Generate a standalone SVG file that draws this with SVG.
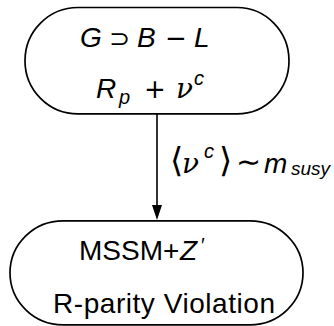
<svg xmlns="http://www.w3.org/2000/svg" width="334" height="326" viewBox="0 0 334 326">
<style>
.node{fill:none;stroke:#000;stroke-width:1.7}
.edge{fill:none;stroke:#000;stroke-width:1.6}
.s{font-family:"Liberation Sans",Arial,sans-serif;fill:#000}
.i{font-family:"Liberation Sans",Arial,sans-serif;font-style:italic;fill:#000}
.m{font-family:"DejaVu Sans","Liberation Serif",serif;fill:#000}
.g{font-family:"DejaVu Serif","Liberation Serif",serif;font-style:italic;fill:#000}
</style>
<g id="connectors">
<line class="edge" x1="157" y1="114" x2="157" y2="206"/>
<path d="M152,205 L162,205 L157,220 Z" fill="#000"/>
</g>
<g id="node-top">
<path class="node" d="M78,7.5 H237 A52,53.2 0 0 1 237,113.9 H78 A53,53.2 0 0 1 78,7.5 Z"/>
<text class="i" x="80" y="47" font-size="28">G</text>
<text class="m" x="109" y="47" font-size="25">⊃</text>
<text class="i" x="137" y="47" font-size="28">B</text>
<text class="m" x="165" y="47" font-size="26">−</text>
<text class="i" x="194" y="47" font-size="28">L</text>
<text class="i" x="96" y="98" font-size="28">R</text>
<text class="i" x="119" y="104" font-size="20">p</text>
<text class="m" x="144" y="98" font-size="26">+</text>
<text class="g" x="176" y="98" font-size="28">ν</text>
<text class="i" x="194" y="85" font-size="20">c</text>
</g>
<g id="label">
<text class="m" x="170" y="172" font-size="34">⟨</text>
<text class="g" x="182" y="173" font-size="28">ν</text>
<text class="i" x="204" y="158" font-size="20">c</text>
<text class="m" x="219" y="172" font-size="34">⟩</text>
<text class="m" x="236" y="172" font-size="30">∼</text>
<text class="i" x="264" y="173" font-size="28">m</text>
<text class="i" x="291" y="175" font-size="19">susy</text>
</g>
<g id="node-bottom">
<path class="node" d="M63,220.8 H250 A53,52 0 0 1 250,324.8 H63 A53,52 0 0 1 63,220.8 Z"/>
<text class="s" x="79" y="260" font-size="28">MSSM+</text>
<text class="i" x="180" y="260" font-size="28">Z</text>
<text class="s" x="201" y="252" font-size="20">′</text>
<text class="s" x="53" y="313" font-size="28" textLength="222" lengthAdjust="spacing">R-parity Violation</text>
</g>
</svg>
